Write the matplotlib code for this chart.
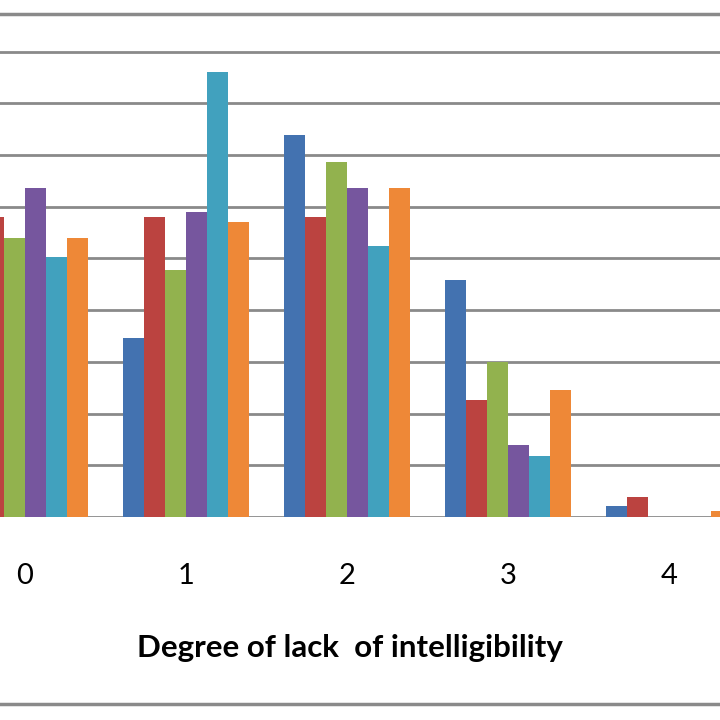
import numpy as np
import matplotlib
matplotlib.use('Agg')
import matplotlib.pyplot as plt
from matplotlib.lines import Line2D

# values (gridline step = 5)
categories = ['0', '1', '2', '3', '4']
blue = [30.0, 17.3, 36.9, 22.9, 1.1]     # first bar is cut off in the picture
red = [29.0, 29.0, 29.0, 11.3, 1.9]
green = [27.0, 23.9, 34.3, 15.0, 0.0]
purple = [31.8, 29.5, 31.8, 7.0, 0.0]
cyan = [25.1, 43.0, 26.2, 5.9, 0.0]
orange = [27.0, 28.5, 31.8, 12.3, 0.6]

series = [blue, red, green, purple, cyan, orange]
colors = ['#4372B0', '#BB4340', '#92B24E', '#76569E', '#41A1BE', '#EE8837']

fig = plt.figure(figsize=(7.2, 7.2), dpi=100)
ax = fig.add_axes([0, 0.2819, 1, 0.6607])

x = np.arange(len(categories))
width = 0.13
for i, (vals, col) in enumerate(zip(series, colors)):
    ax.bar(x + (i - 2.5) * width, vals, width, color=col, zorder=3)

ax.set_xlim(-0.1553, 4.3168)
ax.set_ylim(0, 46)
ax.set_yticks(np.arange(0, 50, 5))
ax.yaxis.grid(True, color='#8a8a8a', linewidth=2, zorder=0)
ax.set_yticklabels([])
ax.tick_params(axis='y', length=0)
for side in ['top', 'right', 'left', 'bottom']:
    ax.spines[side].set_visible(False)

ax.set_xticks(x)
ax.set_xticklabels(categories, fontsize=21, family='Lato')
ax.tick_params(axis='x', length=0, pad=33)

fig.text(350 / 720, 1 - 648 / 720, 'Degree of lack  of intelligibility',
         ha='center', va='center', fontsize=22.5, fontweight='bold', family='Lato')

# chart frame lines visible at top and bottom
for yy in [1 - 14 / 720, 1 - 704 / 720]:
    fig.add_artist(Line2D([0, 1], [yy, yy], color='#8a8a8a', linewidth=2.5))

fig.savefig('out.png', dpi=100, facecolor='white')
